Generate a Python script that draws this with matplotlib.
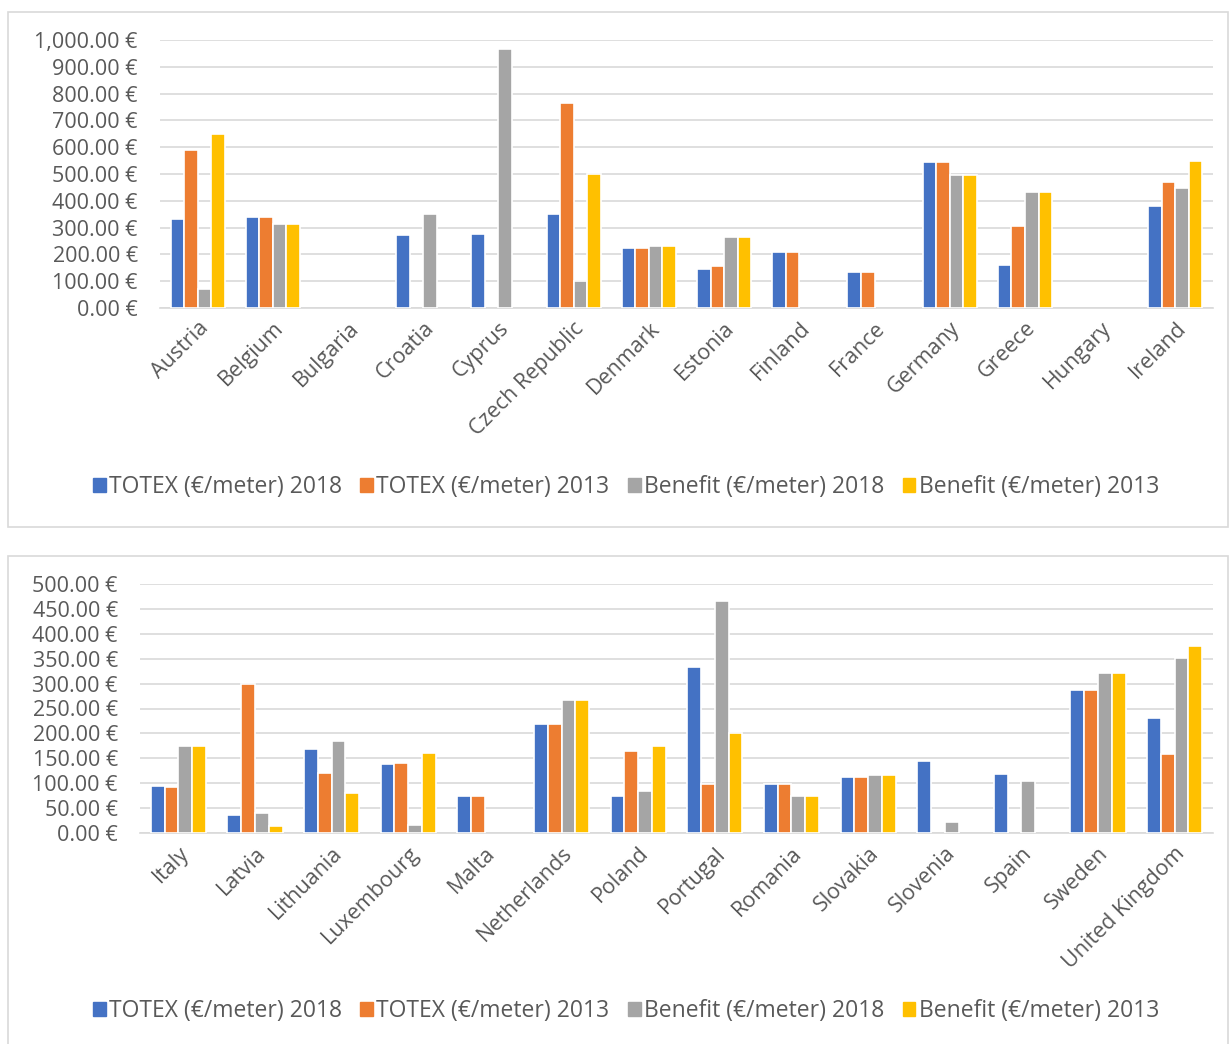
import matplotlib
matplotlib.use("Agg")
import matplotlib.pyplot as plt
import matplotlib.patches as mpatches
from matplotlib.ticker import FuncFormatter
import numpy as np

plt.rcParams['font.family'] = ['Open Sans', 'DejaVu Sans']

series = ['TOTEX (€/meter) 2018', 'TOTEX (€/meter) 2013',
          'Benefit (€/meter) 2018', 'Benefit (€/meter) 2013']
colors = ['#4472C4', '#ED7D31', '#A5A5A5', '#FFC000']

# top chart
countries1 = ['Austria', 'Belgium', 'Bulgaria', 'Croatia', 'Cyprus', 'Czech Republic',
              'Denmark', 'Estonia', 'Finland', 'France', 'Germany', 'Greece',
              'Hungary', 'Ireland']
totex18_1 = [331, 338, 0, 271, 275, 350, 225, 147, 209, 136, 545, 162, 0, 379]
totex13_1 = [590, 338, 0, 0, 0, 764, 225, 156, 209, 136, 545, 307, 0, 472]
benef18_1 = [72, 314, 0, 351, 967, 101, 233, 266, 0, 0, 495, 434, 0, 447]
benef13_1 = [651, 314, 0, 0, 0, 499, 233, 266, 0, 0, 495, 434, 0, 550]

# bottom chart
countries2 = ['Italy', 'Latvia', 'Lithuania', 'Luxembourg', 'Malta', 'Netherlands',
              'Poland', 'Portugal', 'Romania', 'Slovakia', 'Slovenia', 'Spain',
              'Sweden', 'United Kingdom']
totex18_2 = [95, 36, 168, 138, 75, 218, 75, 333, 98, 112, 144, 118, 287, 231]
totex13_2 = [92, 300, 121, 140, 75, 218, 164, 98, 98, 112, 0, 0, 287, 159]
benef18_2 = [174, 41, 184, 17, 0, 268, 84, 465, 75, 116, 23, 104, 321, 351]
benef13_2 = [174, 15, 80, 161, 0, 268, 175, 200, 75, 116, 0, 0, 321, 376]

W, H = 1229, 1044
fig = plt.figure(figsize=(W / 100, H / 100), dpi=100)

txt = '#595959'
grid = '#D9D9D9'


def euro(v, pos):
    return '{:,.2f} €'.format(v)


def draw(ax, cats, data, ymax, step):
    x = np.arange(len(cats))
    bw = 0.18
    for i, vals in enumerate(data):
        vals = np.array(vals, dtype=float)
        vals[vals == 0] = np.nan  # empty cells in the source
        ax.bar(x + (i - 1.5) * bw, vals, width=bw, color=colors[i],
               edgecolor='white', linewidth=1.2, zorder=3)
    ax.set_xlim(-0.5, len(cats) - 0.5)
    ax.set_ylim(0, ymax)
    ax.set_yticks(np.arange(0, ymax + 1, step))
    ax.yaxis.set_major_formatter(FuncFormatter(euro))
    ax.grid(axis='y', color=grid, linewidth=1.2, zorder=0)
    for s in ['top', 'right', 'left']:
        ax.spines[s].set_visible(False)
    ax.spines['bottom'].set_color(grid)
    ax.spines['bottom'].set_linewidth(1.2)
    ax.set_xticks(x)
    ax.set_xticklabels(cats, rotation=45, ha='right', rotation_mode='anchor')
    ax.tick_params(axis='both', length=0, labelsize=15.5, labelcolor=txt)
    ax.tick_params(axis='y', pad=16)
    ax.tick_params(axis='x', pad=7)


# panel borders
for (y0, y1) in [(12, 527), (556, 1048)]:
    fig.patches.append(mpatches.Rectangle((8 / W, 1 - y1 / H), (1228 - 8) / W, (y1 - y0) / H,
                                          transform=fig.transFigure, fill=False,
                                          edgecolor=grid, linewidth=1.2))

ax1 = fig.add_axes([160 / W, 1 - 308 / H, (1213 - 160) / W, (308 - 40) / H])
draw(ax1, countries1, [totex18_1, totex13_1, benef18_1, benef13_1], 1000, 100)

ax2 = fig.add_axes([140 / W, 1 - 833 / H, (1213 - 140) / W, (833 - 584) / H])
draw(ax2, countries2, [totex18_2, totex13_2, benef18_2, benef13_2], 500, 50)

handles = [mpatches.Patch(color=c, label=s) for c, s in zip(colors, series)]
for yc in [487, 1011]:
    leg = fig.legend(handles=handles, loc='center', bbox_to_anchor=(626 / W, 1 - yc / H),
                     ncol=4, frameon=False, fontsize=16.5, handlelength=0.55, handleheight=0.55,
                     handletextpad=0.15, columnspacing=0.8)
    for t in leg.get_texts():
        t.set_color(txt)

fig.savefig('out.png', dpi=100)
